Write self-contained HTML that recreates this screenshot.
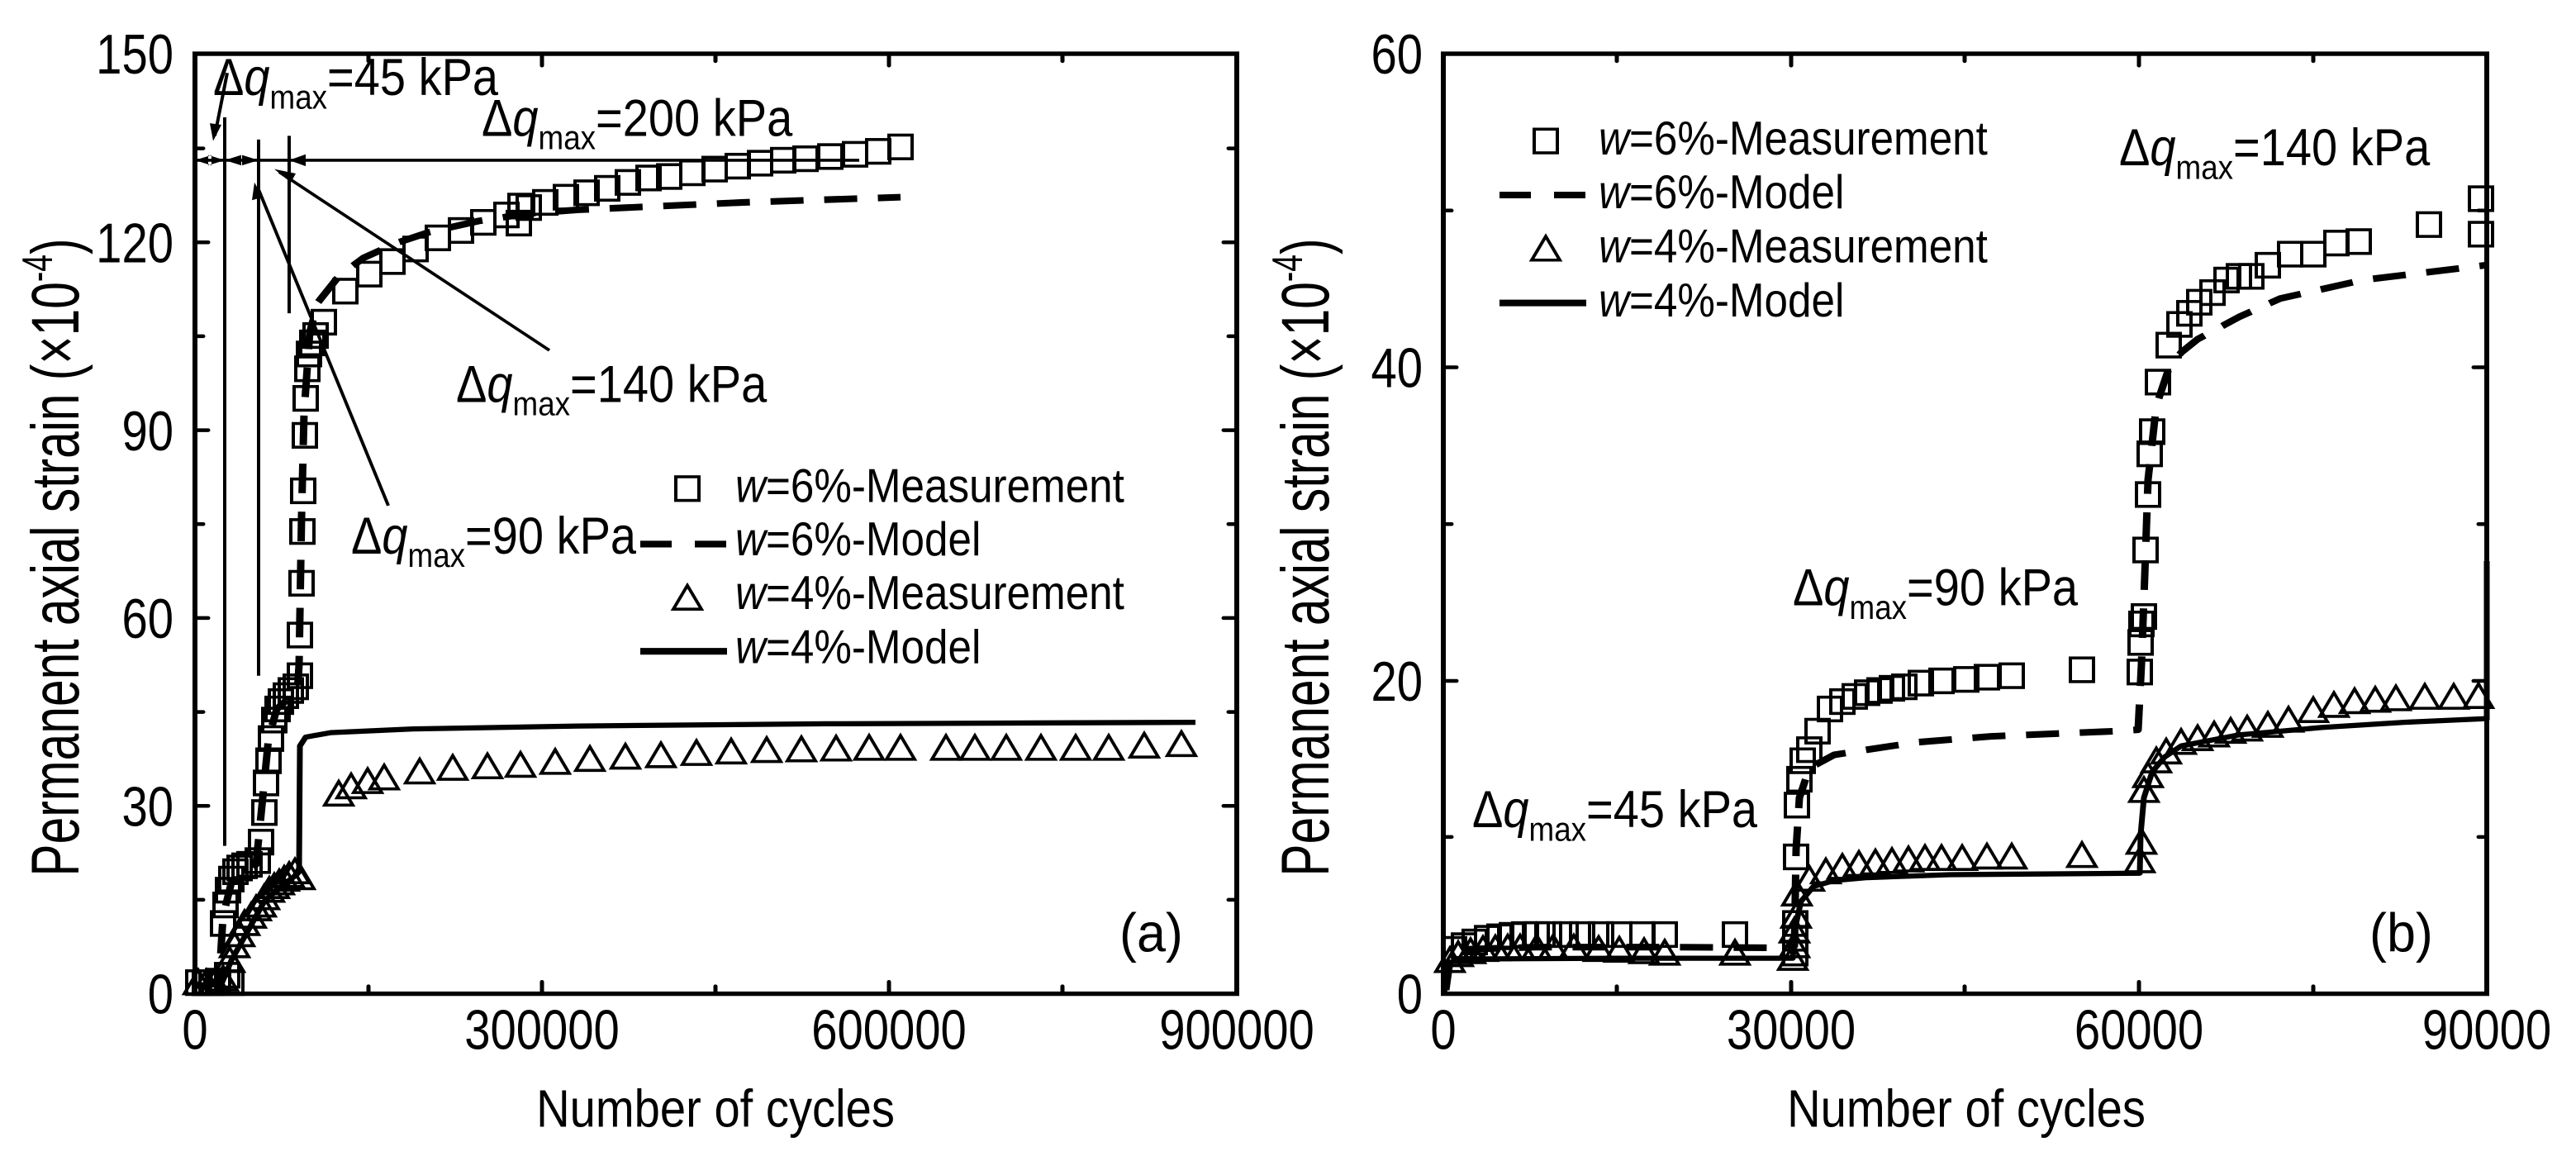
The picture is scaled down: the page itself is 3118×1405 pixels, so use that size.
<!DOCTYPE html>
<html><head><meta charset="utf-8"><style>
html,body{margin:0;padding:0;background:#fff;}
svg{display:block;}
text{font-family:"Liberation Sans",sans-serif;fill:#000;}
</style></head><body>
<svg id="s" width="3118" height="1405" viewBox="0 0 3118 1405" xmlns="http://www.w3.org/2000/svg">
<rect width="3118" height="1405" fill="#fff"/>
<g id="g" transform="translate(0,-1.2) scale(1,0.895)">
<rect x="236" y="74" width="1261" height="1271" fill="none" stroke="#000" stroke-width="6"/>
<rect x="1747" y="74" width="1263" height="1271" fill="none" stroke="#000" stroke-width="6"/>
<g id="ticks" stroke="#000" stroke-width="5" stroke-linecap="round"></g>
<g id="data"></g>

<g font-size="76">
<text transform="translate(210,1372) scale(0.74,1)" text-anchor="end">0</text>
<text transform="translate(210,1118) scale(0.74,1)" text-anchor="end">30</text>
<text transform="translate(210,864) scale(0.74,1)" text-anchor="end">60</text>
<text transform="translate(210,610) scale(0.74,1)" text-anchor="end">90</text>
<text transform="translate(210,356) scale(0.74,1)" text-anchor="end">120</text>
<text transform="translate(210,101) scale(0.74,1)" text-anchor="end">150</text>
<text transform="translate(236,1420) scale(0.74,1)" text-anchor="middle">0</text>
<text transform="translate(656,1420) scale(0.74,1)" text-anchor="middle">300000</text>
<text transform="translate(1076,1420) scale(0.74,1)" text-anchor="middle">600000</text>
<text transform="translate(1497,1420) scale(0.74,1)" text-anchor="middle">900000</text>
<text transform="translate(1722,1372) scale(0.74,1)" text-anchor="end">0</text>
<text transform="translate(1722,949) scale(0.74,1)" text-anchor="end">20</text>
<text transform="translate(1722,525) scale(0.74,1)" text-anchor="end">40</text>
<text transform="translate(1722,101) scale(0.74,1)" text-anchor="end">60</text>
<text transform="translate(1747,1420) scale(0.74,1)" text-anchor="middle">0</text>
<text transform="translate(2168,1420) scale(0.74,1)" text-anchor="middle">30000</text>
<text transform="translate(2589,1420) scale(0.74,1)" text-anchor="middle">60000</text>
<text transform="translate(3010,1420) scale(0.74,1)" text-anchor="middle">90000</text>
</g>
<g font-size="72">
<text transform="translate(866,1525) scale(0.78,1)" text-anchor="middle">Number of cycles</text>
<text transform="translate(2380,1525) scale(0.78,1)" text-anchor="middle">Number of cycles</text>
</g>
<g font-size="82">
<text transform="translate(95,755) rotate(-90) scale(0.8,1)" text-anchor="middle">Permanent axial strain (×10<tspan font-size="52" dy="-32">-4</tspan><tspan dy="32">)</tspan></text>
<text transform="translate(1608,755) rotate(-90) scale(0.8,1)" text-anchor="middle">Permanent axial strain (×10<tspan font-size="52" dy="-32">-4</tspan><tspan dy="32">)</tspan></text>
</g>
<g font-size="64">
<text transform="translate(890,680) scale(0.8,1)"><tspan font-style="italic">w</tspan>=6%-Measurement</text>
<text transform="translate(890,752) scale(0.8,1)"><tspan font-style="italic">w</tspan>=6%-Model</text>
<text transform="translate(890,825) scale(0.8,1)"><tspan font-style="italic">w</tspan>=4%-Measurement</text>
<text transform="translate(890,898) scale(0.8,1)"><tspan font-style="italic">w</tspan>=4%-Model</text>
<text transform="translate(1935,210) scale(0.8,1)"><tspan font-style="italic">w</tspan>=6%-Measurement</text>
<text transform="translate(1935,283) scale(0.8,1)"><tspan font-style="italic">w</tspan>=6%-Model</text>
<text transform="translate(1935,356) scale(0.8,1)"><tspan font-style="italic">w</tspan>=4%-Measurement</text>
<text transform="translate(1935,429) scale(0.8,1)"><tspan font-style="italic">w</tspan>=4%-Model</text>
</g>
<g fill="none" stroke="#000">
<rect x="818" y="646" width="28" height="32" stroke-width="4"/>
<line x1="775" y1="737" x2="880" y2="737" stroke-width="9" stroke-dasharray="38,28"/>
<path d="M815,825 L849,825 L832,793 Z" stroke-width="4"/>
<line x1="775" y1="882" x2="880" y2="882" stroke-width="9"/>
<rect x="1857" y="176" width="28" height="32" stroke-width="4"/>
<line x1="1815" y1="265" x2="1920" y2="265" stroke-width="9" stroke-dasharray="38,28"/>
<path d="M1854,353 L1888,353 L1871,321 Z" stroke-width="4"/>
<line x1="1815" y1="411" x2="1920" y2="411" stroke-width="9"/>
</g>
<g font-size="70">
<text transform="translate(258,130) scale(0.8,1)">Δ<tspan font-style="italic">q</tspan><tspan font-size="46" dy="18">max</tspan><tspan dy="-18">=45 kPa</tspan></text>
<text transform="translate(583,185) scale(0.8,1)">Δ<tspan font-style="italic">q</tspan><tspan font-size="46" dy="18">max</tspan><tspan dy="-18">=200 kPa</tspan></text>
<text transform="translate(552,545) scale(0.8,1)">Δ<tspan font-style="italic">q</tspan><tspan font-size="46" dy="18">max</tspan><tspan dy="-18">=140 kPa</tspan></text>
<text transform="translate(425,750) scale(0.8,1)">Δ<tspan font-style="italic">q</tspan><tspan font-size="46" dy="18">max</tspan><tspan dy="-18">=90 kPa</tspan></text>
<text transform="translate(2565,225) scale(0.8,1)">Δ<tspan font-style="italic">q</tspan><tspan font-size="46" dy="18">max</tspan><tspan dy="-18">=140 kPa</tspan></text>
<text transform="translate(2170,820) scale(0.8,1)">Δ<tspan font-style="italic">q</tspan><tspan font-size="46" dy="18">max</tspan><tspan dy="-18">=90 kPa</tspan></text>
<text transform="translate(1782,1120) scale(0.8,1)">Δ<tspan font-style="italic">q</tspan><tspan font-size="46" dy="18">max</tspan><tspan dy="-18">=45 kPa</tspan></text>
<text transform="translate(1355,1288) scale(0.85,1)" font-size="74">(a)</text>
<text transform="translate(2868,1288) scale(0.85,1)" font-size="74">(b)</text>
</g>
<g stroke="#000" stroke-width="4" fill="none">
<line x1="272" y1="160" x2="272" y2="1145"/>
<line x1="313" y1="190" x2="313" y2="915"/>
<line x1="350" y1="185" x2="350" y2="425"/>
<line x1="236" y1="218" x2="1040" y2="218"/>
<line x1="470" y1="685" x2="312" y2="255"/>
<line x1="665" y1="475" x2="338" y2="234"/>
<line x1="275" y1="100" x2="260" y2="185"/>
</g>
<g fill="#000">
<path d="M236,218 L256,211 L256,225Z M272,218 L252,211 L252,225Z M272,218 L292,211 L292,225Z M313,218 L293,211 L293,225Z M350,218 L370,210 L370,226Z"/>
<path d="M258,192 L254,168 L268,170Z M308,248 L305,272 L318,268Z M332,230 L352,248 L358,236Z"/>
</g>
</g>
</svg>
<script>
var NS="http://www.w3.org/2000/svg";
function el(p,n,a){var e=document.createElementNS(NS,n);for(var k in a)e.setAttribute(k,a[k]);p.appendChild(e);return e;}
var T=document.getElementById('ticks'),D=document.getElementById('data');
function ticksY(x0,x1,ys,len){ys.forEach(function(y){el(T,'line',{x1:x0,y1:y,x2:x0+len,y2:y});el(T,'line',{x1:x1,y1:y,x2:x1-len,y2:y});});}
function ticksX(y0,y1,xs,len){xs.forEach(function(x){el(T,'line',{x1:x,y1:y0,x2:x,y2:y0-len});el(T,'line',{x1:x,y1:y1,x2:x,y2:y1+len});});}
ticksY(236,1497,[1091,837,583,329],16);ticksY(236,1497,[1218,964,710,456,202],10);
ticksX(1345,74,[656,1076],16);ticksX(1345,74,[446,866,1286],10);
ticksY(1747,3010,[922,498],16);ticksY(1747,3010,[1133,710,286],10);
ticksX(1345,74,[2168,2589],16);ticksX(1345,74,[1957,2378,2800],10);
function P(a,o){o=o||0;var s='';for(var i=0;i<a.length;i+=2)s+=(i?'L':'M')+(a[i]+o)+','+a[i+1];return s;}
function sq(a,o){o=o||0;for(var i=0;i<a.length;i+=2)el(D,'rect',{x:a[i]+o-14,y:a[i+1]-16,width:28,height:32,fill:'none',stroke:'#000','stroke-width':4});}
function tr(a,o){o=o||0;for(var i=0;i<a.length;i+=2){var x=a[i]+o,y=a[i+1];el(D,'path',{d:'M'+(x-17)+','+(y+15)+'L'+(x+17)+','+(y+15)+'L'+x+','+(y-17)+'Z',fill:'none',stroke:'#000','stroke-width':4});}}
function line(a,o,dash){var at={d:P(a,o),fill:'none',stroke:'#000','stroke-width':dash?9:7,'stroke-linejoin':'round'};if(dash)at['stroke-dasharray']='40,25';el(D,'path',at);}
line([238,1335,268,1332,280,1300,300,1260,320,1220,340,1200,358,1185,362,1180,363,1010,370,998,400,992,500,987,700,983,1000,980,1447,978]);
line([240,1335,265,1330,270,1240,280,1195,300,1180,310,1170,318,1080,325,1000,335,960,350,945,360,935,362,900,365,700,368,560,375,450,385,410,410,375,440,350,480,330,520,315,580,300,640,290,700,285,760,282,900,275,1090,268],0,1);
sq([240,1330,248,1330,256,1330,264,1328,275,1320,280,1330,270,1250,273,1225,276,1205,280,1190,285,1180,290,1175,296,1172,302,1170,312,1165,316,1140,320,1100,322,1060,325,1030,328,1000,332,975,336,960,340,950,346,942,352,935,358,930,363,915,363,860,365,790,366,720,367,665,369,590,370,540,372,500,374,480,378,465,382,455,392,437,418,395,447,372,475,355,503,338,530,323,558,313,585,302,613,292,628,303,630,280,640,282,660,275,685,268,710,262,735,256,760,248,785,242,810,240,838,235,865,230,893,226,920,222,948,218,975,216,1005,213,1035,210,1063,206,1090,200]);
tr([240,1330,250,1330,260,1330,270,1325,278,1300,284,1280,290,1265,296,1250,304,1240,310,1230,316,1225,320,1215,326,1205,332,1200,338,1195,344,1190,350,1185,357,1180,363,1188,410,1075,425,1065,445,1058,465,1053,508,1045,548,1040,590,1038,630,1036,672,1032,714,1028,757,1025,800,1023,843,1020,885,1018,928,1016,970,1015,1012,1014,1052,1013,1090,1013,1145,1013,1180,1013,1218,1013,1260,1013,1302,1013,1342,1013,1385,1010,1430,1008]);
var o=1560;
line([188,1345,192,1305,205,1298,400,1297,610,1297,612,1260,620,1220,635,1200,660,1192,700,1188,800,1184,1030,1182,1031,1130,1035,1080,1045,1045,1060,1025,1080,1010,1150,995,1250,985,1350,978,1450,973],o);
line([1450,975,1450,760],o);
line([190,1340,195,1300,210,1285,300,1282,460,1282,600,1283,612,1280,614,1150,618,1080,630,1040,660,1022,700,1015,760,1005,850,997,1000,990,1028,988,1032,900,1036,780,1040,650,1050,550,1065,500,1080,478,1100,460,1150,430,1200,405,1300,380,1448,360],o,1);
sq([200,1285,212,1280,225,1275,240,1270,255,1268,270,1266,285,1265,300,1265,315,1265,335,1265,355,1265,378,1265,400,1265,428,1265,455,1265,540,1265,613,1290,613,1270,613,1250,614,1160,615,1090,618,1055,622,1030,630,1015,640,990,655,960,670,950,685,943,700,938,715,935,730,932,745,930,765,925,790,922,820,920,845,917,875,915,960,907,1030,910,1031,870,1032,845,1035,835,1037,745,1040,670,1042,615,1045,585,1052,518,1065,468,1078,440,1090,425,1102,410,1118,397,1135,380,1150,375,1165,375,1185,360,1212,345,1240,345,1268,330,1295,328,1380,305,1443,270,1443,318],o);
tr([195,1300,205,1292,220,1288,235,1285,250,1284,265,1283,280,1283,300,1283,320,1283,345,1283,375,1285,400,1286,430,1288,455,1290,540,1290,610,1297,612,1280,612,1260,614,1240,615,1210,630,1190,650,1180,670,1174,690,1170,710,1168,730,1166,750,1164,770,1162,790,1162,815,1162,845,1160,875,1160,960,1158,1030,1165,1032,1140,1035,1070,1040,1050,1050,1030,1062,1018,1080,1005,1100,1000,1120,995,1140,990,1160,987,1185,982,1210,975,1240,962,1265,955,1290,950,1315,948,1340,946,1375,944,1410,944,1440,943],o);
</script>
</body></html>
